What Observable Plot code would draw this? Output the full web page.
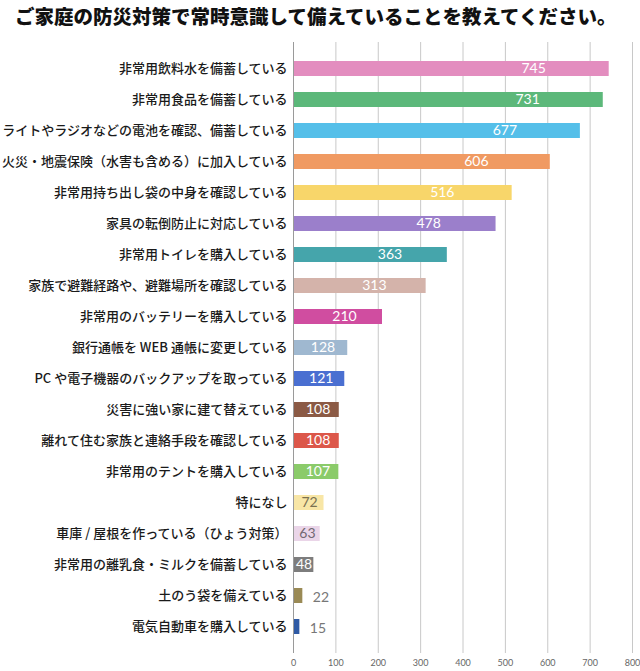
<!DOCTYPE html>
<html><head><meta charset="utf-8">
<script src="https://cdn.jsdelivr.net/npm/d3@7"></script>
<script src="https://cdn.jsdelivr.net/npm/@observablehq/plot@0.6"></script>
<style>
body{margin:0;background:#fff;}
#title{font-family:"Noto Sans CJK JP";font-weight:900;font-size:19.5px;height:34px;line-height:32px;padding-left:15px;white-space:nowrap;color:#111;}
#chart svg{display:block;}
</style></head><body>
<div id="title">ご家庭の防災対策で常時意識して備えていることを教えてください。</div>
<div id="chart"></div>
<script>
const categories = [
  "非常用飲料水を備蓄している",
  "非常用食品を備蓄している",
  "ライトやラジオなどの電池を確認、備蓄している",
  "火災・地震保険（水害も含める）に加入している",
  "非常用持ち出し袋の中身を確認している",
  "家具の転倒防止に対応している",
  "非常用トイレを購入している",
  "家族で避難経路や、避難場所を確認している",
  "非常用のバッテリーを購入している",
  "銀行通帳を WEB 通帳に変更している",
  "PC や電子機器のバックアップを取っている",
  "災害に強い家に建て替えている",
  "離れて住む家族と連絡手段を確認している",
  "非常用のテントを購入している",
  "特になし",
  "車庫 / 屋根を作っている（ひょう対策）",
  "非常用の離乳食・ミルクを備蓄している",
  "土のう袋を備えている",
  "電気自動車を購入している"
];
const values = [745, 731, 677, 606, 516, 478, 363, 313, 210, 128, 121, 108, 108, 107, 72, 63, 48, 22, 15];
const palette = ["#e38dbf","#5cb87a","#55bfe9","#f09a62","#f8d66a","#9b7fcb","#45a5ab","#d4b3aa","#d04da0",
  "#9fb8d0","#4a6fd1","#8b5a45","#dc574a","#8bcb6a","#f8e6a6","#ead5e8","#7d7d7d","#9a8a55","#2f5aa5"];
const xTicks = [0, 100, 200, 300, 400, 500, 600, 700, 800];

const data = categories.map((c, i) => ({category: c, value: values[i], i}));
const inside = data.filter(d => d.value >= 40);
const outside = data.filter(d => d.value < 40);
const inkFor = d => d3.hsl(palette[d.i]).l > 0.78 ? d3.color(palette[d.i]).darker(2).formatHex() : "white";

const chart = Plot.plot({
  width: 640, height: 637,
  marginLeft: 293, marginRight: 8, marginTop: 8, marginBottom: 18,
  style: {background: "#fff", fontFamily: "'Noto Sans CJK JP'"},
  x: {domain: [0, 800]},
  y: {domain: categories, padding: 0.52},
  marks: [
    Plot.ruleX(xTicks.slice(1), {stroke: "#c8c8c8", strokeWidth: 1}),
    Plot.barX(data, {y: "category", x: "value", fill: d => palette[d.i]}),
    Plot.ruleX([0], {stroke: "#9a9a9a", strokeWidth: 1}),
    Plot.axisY({tickSize: 0, tickPadding: 6, fontSize: 13, fontWeight: 500, fill: "#1a1a1a", label: null}),
    Plot.axisX({ticks: xTicks, tickSize: 0, tickPadding: 6, fontSize: 9, fill: "#666", fontFamily: "Lato", label: null}),
    Plot.text(inside, {
      y: "category",
      x: d => 0.5 * d.value + 0.00035 * d.value * d.value,
      text: d => String(d.value),
      fill: inkFor,
      fontSize: 14, fontFamily: "Lato", fontWeight: 400, textAnchor: "middle"
    }),
    Plot.text(outside, {
      y: "category", x: "value", dx: 10, dy: 2,
      text: d => String(d.value),
      fill: "#777", fontSize: 14, fontFamily: "Lato", fontWeight: 400, textAnchor: "start"
    })
  ]
});
document.getElementById("chart").appendChild(chart);
</script>
</body></html>
